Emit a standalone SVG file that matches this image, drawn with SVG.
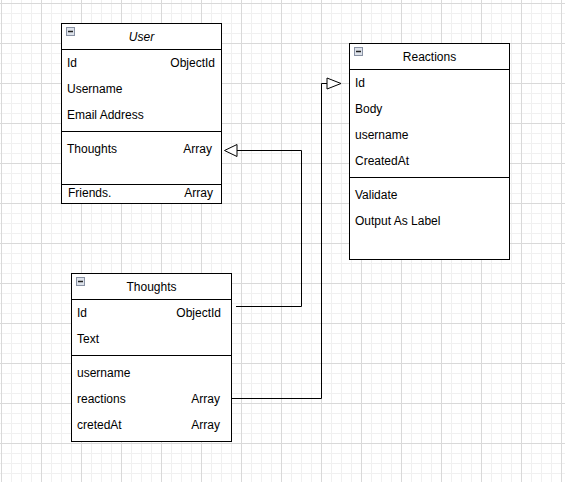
<svg xmlns="http://www.w3.org/2000/svg" width="565" height="482" viewBox="0 0 565 482">
<style>
.box{fill:#ffffff;stroke:#000000;stroke-width:1}
.sep{stroke:#000000;stroke-width:1}
.t{font-family:"Liberation Sans",Arial,Helvetica,sans-serif;font-size:12px;fill:#000000}
.r{text-anchor:end}
.c{text-anchor:middle}
.i{font-style:italic}
.edge{fill:none;stroke:#000000;stroke-width:1}
.head{fill:#ffffff;stroke:#000000;stroke-width:1}
.ico{fill:#dde2ea;stroke:#8891a3;stroke-width:1}
.icm{stroke:#222222;stroke-width:1.5}
</style>
<defs>
<pattern id="grid" x="1" y="3" width="40" height="40" patternUnits="userSpaceOnUse">
<path d="M10.5 0V40M20.5 0V40M30.5 0V40M0 10.5H40M0 20.5H40M0 30.5H40" stroke="#f0f0f0" stroke-width="1" fill="none"/>
<path d="M0.5 0V40M0 0.5H40" stroke="#d9d9d9" stroke-width="1" fill="none"/>
</pattern>
<g id="minus">
<rect class="ico" x="0.5" y="0.5" width="8" height="8"/>
<path class="icm" d="M2 4.5H7"/>
</g>
</defs>
<rect width="565" height="482" fill="#ffffff"/>
<rect width="565" height="482" fill="url(#grid)"/>

<g id="connectors">
<path class="edge" d="M236 306.5H301.5V150.5H237"/>
<path class="head" d="M224.5 150.5L237 144.5V156.5Z"/>
<path class="edge" d="M231.5 398.5H321.5V83.5H327"/>
<path class="head" d="M341 83.5L327 78V89Z"/>
</g>

<g id="user">
<rect class="box" x="61.5" y="23.5" width="160" height="180"/>
<path class="sep" d="M61.5 49.5H221.5M61.5 131.5H221.5M61.5 184.5H221.5"/>
<use href="#minus" x="66" y="27"/>
<text class="t c i" x="141.5" y="40.5">User</text>
<text class="t" x="67" y="66.5">Id</text>
<text class="t r" x="215" y="66.5">ObjectId</text>
<text class="t" x="67" y="92.5">Username</text>
<text class="t" x="67" y="118.5">Email Address</text>
<text class="t" x="67" y="152.5">Thoughts</text>
<text class="t r" x="212" y="152.5">Array</text>
<text class="t" x="68" y="197">Friends.</text>
<text class="t r" x="213" y="197">Array</text>
</g>

<g id="reactions">
<rect class="box" x="349.5" y="43.5" width="160" height="216"/>
<path class="sep" d="M349.5 69.5H509.5M349.5 177.5H509.5"/>
<use href="#minus" x="354" y="47"/>
<text class="t c" x="429.5" y="60.5">Reactions</text>
<text class="t" x="355" y="86.5">Id</text>
<text class="t" x="355" y="112.5">Body</text>
<text class="t" x="355" y="138.5">username</text>
<text class="t" x="355" y="164.5">CreatedAt</text>
<text class="t" x="355" y="198.5">Validate</text>
<text class="t" x="355" y="224.5">Output As Label</text>
</g>

<g id="thoughts">
<rect class="box" x="71.5" y="273.5" width="160" height="168"/>
<path class="sep" d="M71.5 299.5H231.5M71.5 355.5H231.5"/>
<use href="#minus" x="76" y="277"/>
<text class="t c" x="151.5" y="290.5">Thoughts</text>
<text class="t" x="77" y="316.5">Id</text>
<text class="t r" x="221" y="316.5">ObjectId</text>
<text class="t" x="77" y="342.5">Text</text>
<text class="t" x="77" y="376.5">username</text>
<text class="t" x="77" y="402.5">reactions</text>
<text class="t r" x="220" y="402.5">Array</text>
<text class="t" x="77" y="428.5">cretedAt</text>
<text class="t r" x="220" y="428.5">Array</text>
</g>
</svg>
